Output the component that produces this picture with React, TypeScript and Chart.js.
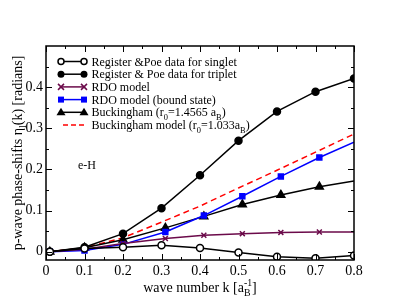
import React, { useEffect, useRef } from "react";
import { Chart, registerables } from "chart.js";

Chart.register(...registerables);

const kMain = [0.01, 0.1, 0.2, 0.3, 0.4, 0.5, 0.6, 0.7, 0.8];
const kModel = [0.01, 0.1, 0.2, 0.31, 0.41, 0.51, 0.61, 0.71, 0.8];
const singlet = [0.0, 0.008, 0.011, 0.016, 0.009, -0.002, -0.012, -0.016, -0.009];
const triplet = [0.0, 0.011, 0.044, 0.106, 0.186, 0.27, 0.341, 0.389, 0.421];
const rdo = [0.0, 0.006, 0.02, 0.032, 0.04, 0.044, 0.047, 0.048, 0.048];
const rdoBound = [0.0, 0.003, 0.018, 0.048, 0.088, 0.135, 0.183, 0.229, 0.266];
const buck = [0.0, 0.01, 0.029, 0.058, 0.086, 0.115, 0.138, 0.158, 0.172];
const buckModel = [0.0, 0.01, 0.034, 0.072, 0.111, 0.155, 0.198, 0.242, 0.286];
const xTicks = [0, 0.1, 0.2, 0.3, 0.4, 0.5, 0.6, 0.7, 0.8];
const yTicks = [0, 0.1, 0.2, 0.3, 0.4];

const SERIF = "'Liberation Serif', 'Times New Roman', serif";
const PURPLE = "#6b0a4a";

type Part = { t: string; sub?: string; sup?: string };

function richWidth(ctx: CanvasRenderingContext2D, parts: Part[], size: number) {
  let w = 0;
  for (const p of parts) {
    ctx.font = `${size}px ${SERIF}`;
    w += ctx.measureText(p.t).width;
    ctx.font = `${size * 0.7}px ${SERIF}`;
    const sw = Math.max(p.sub ? ctx.measureText(p.sub).width : 0, p.sup ? ctx.measureText(p.sup).width : 0);
    w += sw;
  }
  return w;
}

function drawRich(ctx: CanvasRenderingContext2D, parts: Part[], x: number, y: number, size: number) {
  let cx = x;
  ctx.textBaseline = "alphabetic";
  ctx.textAlign = "left";
  for (const p of parts) {
    ctx.font = `${size}px ${SERIF}`;
    ctx.fillText(p.t, cx, y);
    cx += ctx.measureText(p.t).width;
    ctx.font = `${size * 0.7}px ${SERIF}`;
    let sw = 0;
    if (p.sub) {
      ctx.fillText(p.sub, cx, y + size * 0.3);
      sw = ctx.measureText(p.sub).width;
    }
    if (p.sup) {
      ctx.fillText(p.sup, cx, y - size * 0.45);
      sw = Math.max(sw, ctx.measureText(p.sup).width);
    }
    cx += sw;
  }
}

function drawMarker(ctx: CanvasRenderingContext2D, kind: string, x: number, y: number, color: string) {
  ctx.save();
  ctx.strokeStyle = color;
  ctx.fillStyle = color;
  ctx.lineWidth = 1.5;
  ctx.beginPath();
  if (kind === "open") {
    ctx.arc(x, y, 3, 0, Math.PI * 2);
    ctx.fillStyle = "#fff";
    ctx.fill();
    ctx.stroke();
  } else if (kind === "filled") {
    ctx.arc(x, y, 3.5, 0, Math.PI * 2);
    ctx.fill();
  } else if (kind === "cross") {
    const r = 3;
    ctx.moveTo(x - r, y - r);
    ctx.lineTo(x + r, y + r);
    ctx.moveTo(x + r, y - r);
    ctx.lineTo(x - r, y + r);
    ctx.stroke();
  } else if (kind === "square") {
    ctx.fillRect(x - 3, y - 3, 6, 6);
  } else if (kind === "tri") {
    ctx.moveTo(x, y - 4.5);
    ctx.lineTo(x + 4.5, y + 3);
    ctx.lineTo(x - 4.5, y + 3);
    ctx.closePath();
    ctx.fill();
  }
  ctx.restore();
}

const decorPlugin = {
  id: "decor",
  afterDraw(chart: any) {
    const ctx: CanvasRenderingContext2D = chart.ctx;
    const { left, right, top, bottom } = chart.chartArea;
    const xs = chart.scales.x;
    const ys = chart.scales.y;
    ctx.save();
    // frame
    ctx.strokeStyle = "#000";
    ctx.lineWidth = 1.5;
    ctx.strokeRect(left, top, right - left, bottom - top);
    // ticks
    ctx.lineWidth = 1;
    ctx.beginPath();
    for (let i = 0; i <= 16; i++) {
      const v = i * 0.05;
      const px = Math.round(xs.getPixelForValue(v)) + 0.5;
      const len = i % 2 === 0 ? 6 : 3;
      ctx.moveTo(px, bottom);
      ctx.lineTo(px, bottom - len);
      ctx.moveTo(px, top);
      ctx.lineTo(px, top + len);
    }
    for (let i = 0; i <= 9; i++) {
      const v = i * 0.05;
      const py = Math.round(ys.getPixelForValue(v)) + 0.5;
      const len = i % 2 === 0 ? 6 : 3;
      ctx.moveTo(left, py);
      ctx.lineTo(left + len, py);
      ctx.moveTo(right, py);
      ctx.lineTo(right - len, py);
    }
    ctx.stroke();

    ctx.fillStyle = "#000";
    // x title
    const xParts: Part[] = [{ t: "wave number k [a", sub: "B", sup: "-1" }, { t: "]" }];
    const xw = richWidth(ctx, xParts, 14);
    drawRich(ctx, xParts, 200 - xw / 2, 292, 14);
    // y title
    const yParts: Part[] = [{ t: "p-wave phase-shifts \u03B7", sub: "l" }, { t: "(k) [radians]" }];
    const yw = richWidth(ctx, yParts, 14);
    ctx.save();
    ctx.translate(22, 153);
    ctx.rotate(-Math.PI / 2);
    drawRich(ctx, yParts, -yw / 2, 0, 14);
    ctx.restore();
    // e-H
    ctx.font = `12px ${SERIF}`;
    ctx.fillText("e-H", 78, 169);

    // legend
    const rows: { kind: string; color: string; parts: Part[]; dashed?: boolean }[] = [
      { kind: "open", color: "#000", parts: [{ t: "Register &Poe data for singlet" }] },
      { kind: "filled", color: "#000", parts: [{ t: "Register & Poe data for triplet" }] },
      { kind: "cross", color: PURPLE, parts: [{ t: "RDO model" }] },
      { kind: "square", color: "#0000ff", parts: [{ t: "RDO model (bound state)" }] },
      { kind: "tri", color: "#000", parts: [{ t: "Buckingham (r", sub: "0" }, { t: "=1.4565 a", sub: "B" }, { t: ")" }] },
      { kind: "none", color: "#ff0000", dashed: true, parts: [{ t: "Buckingham model (r", sub: "0" }, { t: "=1.033a", sub: "B" }, { t: ")" }] },
    ];
    rows.forEach((r, i) => {
      const y = 61.5 + i * 12.7;
      ctx.save();
      ctx.strokeStyle = r.color;
      ctx.lineWidth = 1.5;
      if (r.dashed) ctx.setLineDash([5, 3]);
      ctx.beginPath();
      ctx.moveTo(r.dashed ? 63 : 61, y);
      ctx.lineTo(84, y);
      ctx.stroke();
      ctx.restore();
      if (r.kind !== "none") {
        drawMarker(ctx, r.kind, 61, y, r.color);
        drawMarker(ctx, r.kind, 84, y, r.color);
      }
      ctx.fillStyle = "#000";
      drawRich(ctx, r.parts, 91.5, y + 4, 12);
    });
    ctx.restore();
  },
};

function pts(xs: number[], ys: number[]) {
  return xs.map((x, i) => ({ x, y: ys[i] }));
}

const hideLast = (n: number, r: number) => (c: any) => (c.dataIndex === n - 1 ? 0 : r);

export default function App() {
  const ref = useRef<HTMLCanvasElement>(null);
  useEffect(() => {
    if (!ref.current) return;
    const chart = new Chart(ref.current, {
      type: "line",
      data: {
        datasets: [
          {
            label: "singlet",
            data: pts(kMain, singlet),
            borderColor: "#000",
            borderWidth: 1.5,
            pointStyle: "circle",
            pointRadius: 3.5,
            pointBorderWidth: 1.5,
            pointBackgroundColor: "#fff",
            pointBorderColor: "#000",
          },
          {
            label: "triplet",
            data: pts(kMain, triplet),
            borderColor: "#000",
            borderWidth: 1.5,
            pointStyle: "circle",
            pointRadius: 3.5,
            pointBackgroundColor: "#000",
            pointBorderColor: "#000",
          },
          {
            label: "RDO",
            data: pts(kModel, rdo),
            borderColor: PURPLE,
            borderWidth: 1.5,
            pointStyle: "crossRot",
            pointRadius: hideLast(kModel.length, 3.5),
            pointBorderWidth: 1.5,
            pointBorderColor: PURPLE,
          },
          {
            label: "RDO bound",
            data: pts(kModel, rdoBound),
            borderColor: "#0000ff",
            borderWidth: 1.5,
            pointStyle: "rect",
            pointRadius: hideLast(kModel.length, 3.5),
            pointBackgroundColor: "#0000ff",
            pointBorderColor: "#0000ff",
          },
          {
            label: "Buckingham",
            data: pts(kModel, buck),
            borderColor: "#000",
            borderWidth: 1.5,
            pointStyle: "triangle",
            pointRadius: hideLast(kModel.length, 4.5),
            pointBackgroundColor: "#000",
            pointBorderColor: "#000",
          },
          {
            label: "Buckingham model",
            data: pts(kMain, buckModel),
            borderColor: "#ff0000",
            borderWidth: 1.5,
            borderDash: [6, 4],
            pointRadius: 0,
          },
        ],
      },
      options: {
        responsive: false,
        animation: false,
        devicePixelRatio: 1,
        layout: { padding: { top: 46, right: 44, left: 0, bottom: 0 } },
        plugins: { legend: { display: false }, tooltip: { enabled: false } },
        scales: {
          x: {
            type: "linear",
            min: 0,
            max: 0.8,
            afterFit: (s: any) => {
              s.height = 47;
            },
            afterBuildTicks: (s: any) => {
              s.ticks = xTicks.map((v) => ({ value: v }));
            },
            grid: { display: false, drawTicks: false },
            border: { display: false },
            ticks: {
              padding: 3,
              color: "#000",
              font: { family: SERIF, size: 14 },
              maxRotation: 0,
              callback: (v: any) => (v === 0 ? "0" : Number(v).toFixed(1)),
            },
          },
          y: {
            type: "linear",
            min: -0.02,
            max: 0.5,
            afterFit: (s: any) => {
              s.width = 46;
            },
            afterBuildTicks: (s: any) => {
              s.ticks = yTicks.map((v) => ({ value: v }));
            },
            grid: { display: false, drawTicks: false },
            border: { display: false },
            ticks: {
              padding: 3,
              color: "#000",
              font: { family: SERIF, size: 14 },
              callback: (v: any) => (v === 0 ? "0" : Number(v).toFixed(1)),
            },
          },
        },
      } as any,
      plugins: [decorPlugin],
    });
    return () => chart.destroy();
  }, []);
  return (
    <div style={{ position: "fixed", left: 0, top: 0, width: 398, height: 307, background: "#fff" }}>
      <canvas ref={ref} width={398} height={307} style={{ width: 398, height: 307, display: "block" }} />
    </div>
  );
}
